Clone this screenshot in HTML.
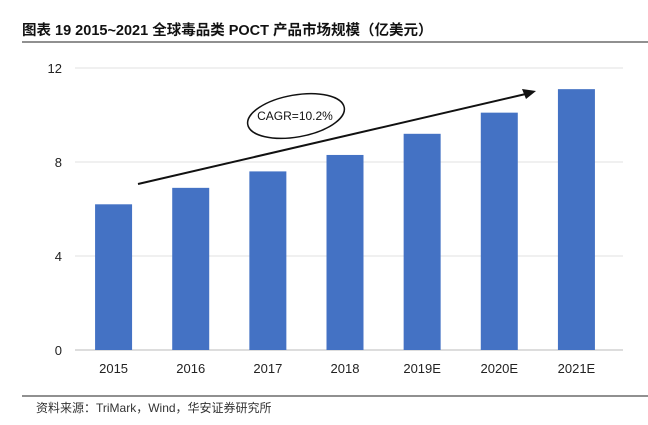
<!DOCTYPE html>
<html><head><meta charset="utf-8"><style>
body{margin:0;background:#fff;width:648px;height:420px;overflow:hidden;font-family:"Liberation Sans","Noto Sans CJK SC",sans-serif}
</style></head><body>
<svg width="648" height="420" viewBox="0 0 648 420">
<text x="22" y="35" font-size="14.5" font-weight="bold" fill="#111">图表 19 2015~2021 全球毒品类 POCT 产品市场规模（亿美元）</text>
<line x1="22" y1="42" x2="648" y2="42" stroke="#222" stroke-width="1"/>
<g id="grid"></g><g id="bars"></g><g id="xl"></g>
<line x1="138" y1="184" x2="530" y2="93" stroke="#111" stroke-width="2"/>
<polygon points="536,91 522,89 526,99" fill="#111"/>
<ellipse cx="296" cy="116" rx="49" ry="21" fill="#fff" stroke="#111" stroke-width="1.5" transform="rotate(-10 296 116)"/>
<text x="295" y="120" font-size="12" text-anchor="middle" fill="#111">CAGR=10.2%</text>
<line x1="22" y1="396" x2="648" y2="396" stroke="#222" stroke-width="1"/>
<text x="36" y="412" font-size="12" fill="#333">资料来源：TriMark，Wind，华安证券研究所</text>
</svg>
<script>
const categories=["2015","2016","2017","2018","2019E","2020E","2021E"];
const values=[6.2,6.9,7.6,8.3,9.2,10.1,11.1];
const ticks=[0,4,8,12];
const NS="http://www.w3.org/2000/svg";
const y=v=>350-v*(282/12);
const x0=75,x1=615,step=(x1-x0)/categories.length;
const xc=i=>x0+step*(i+0.5);
function mk(t,a,p){const e=document.createElementNS(NS,t);for(const k in a)e.setAttribute(k,a[k]);document.getElementById(p).appendChild(e);return e;}
ticks.forEach(t=>{
 const l=mk("line",{x1:x0,x2:623,y1:y(t),y2:y(t),stroke:t===0?"#bbb":"#e0e0e0","stroke-width":1},"grid");
 
 
 const tx=mk("text",{x:62,y:y(t)+5,"font-size":13,"text-anchor":"end",fill:"#222"},"grid");
 tx.textContent=t;
 
 
});
values.forEach((v,i)=>{
 const r=mk("rect",{x:xc(i)-18.5,y:y(v),width:37,height:y(0)-y(v),fill:"#4472C4"},"bars");
 
 
 const tx=mk("text",{x:xc(i),y:373,"font-size":13,"text-anchor":"middle",fill:"#222"},"xl");
 tx.textContent=categories[i];
 
 
});
</script>
</body></html>
